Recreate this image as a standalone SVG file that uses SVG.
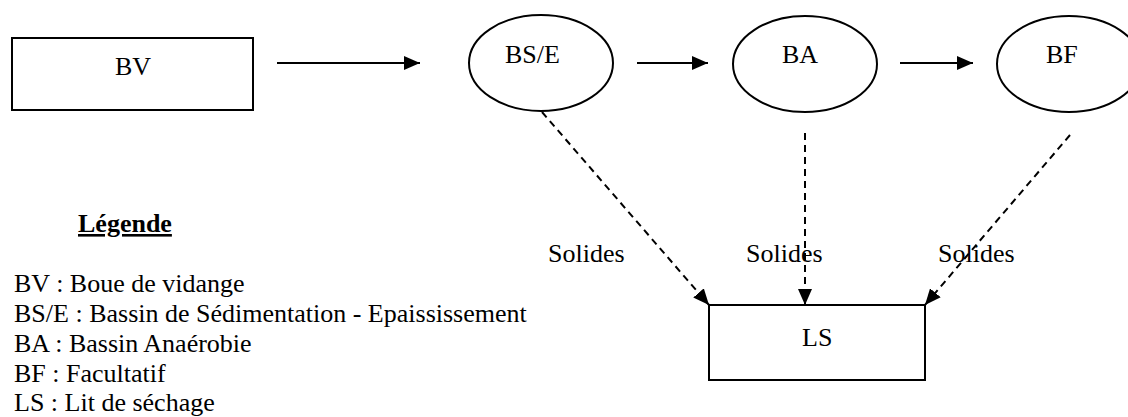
<svg xmlns="http://www.w3.org/2000/svg" width="1128" height="417" viewBox="0 0 1128 417">
<style>
text{font-family:"Liberation Serif","Times New Roman",serif;font-size:26px;fill:#000}
.box{fill:#fff;stroke:#000;stroke-width:2}
.ell{fill:#fff;stroke:#000;stroke-width:2}
.flow{stroke:#000;stroke-width:2;fill:none;marker-end:url(#ah)}
.solid{stroke:#000;stroke-width:2;fill:none;stroke-dasharray:7 5;marker-end:url(#ah)}
</style>
<defs>
<marker id="ah" markerUnits="userSpaceOnUse" markerWidth="17" markerHeight="14" refX="16" refY="7" orient="auto">
<path d="M0,0 L16,7 L0,14 Z" fill="#000"/>
</marker>
</defs>
<rect width="1128" height="417" fill="#fff"/>
<g id="connectors">
<line class="flow" x1="277" y1="63" x2="420" y2="63"/>
<line class="flow" x1="637" y1="63" x2="708" y2="63"/>
<line class="flow" x1="900" y1="63" x2="973" y2="63"/>
<line class="solid" x1="542" y1="112" x2="709" y2="305"/>
<line class="solid" x1="805" y1="133" x2="805" y2="305"/>
<line class="solid" x1="1070" y1="135" x2="925" y2="305"/>
</g>
<g id="node-BV">
<rect class="box" x="12" y="38" width="241" height="72"/>
<text x="115" y="75">BV</text>
</g>
<g id="node-BSE">
<ellipse class="ell" cx="541" cy="63" rx="72" ry="48"/>
<text x="505" y="63">BS/E</text>
</g>
<g id="node-BA">
<ellipse class="ell" cx="805" cy="64" rx="72" ry="48"/>
<text x="782" y="63">BA</text>
</g>
<g id="node-BF">
<ellipse class="ell" cx="1069" cy="64" rx="72" ry="48"/>
<text x="1046" y="63">BF</text>
</g>
<g id="node-LS">
<rect class="box" x="709" y="305" width="216" height="75"/>
<text x="802" y="346">LS</text>
</g>
<g id="labels">
<text x="548" y="262">Solides</text>
<text x="746" y="262">Solides</text>
<text x="938" y="262">Solides</text>
</g>
<g id="legend">
<text x="78" y="232" font-weight="bold" text-decoration="underline">Légende</text>
<text x="14" y="292">BV : Boue de vidange</text>
<text x="14" y="322">BS/E : Bassin de Sédimentation - Epaississement</text>
<text x="14" y="352">BA : Bassin Anaérobie</text>
<text x="14" y="382">BF : Facultatif</text>
<text x="14" y="411">LS : Lit de séchage</text>
</g>
</svg>
